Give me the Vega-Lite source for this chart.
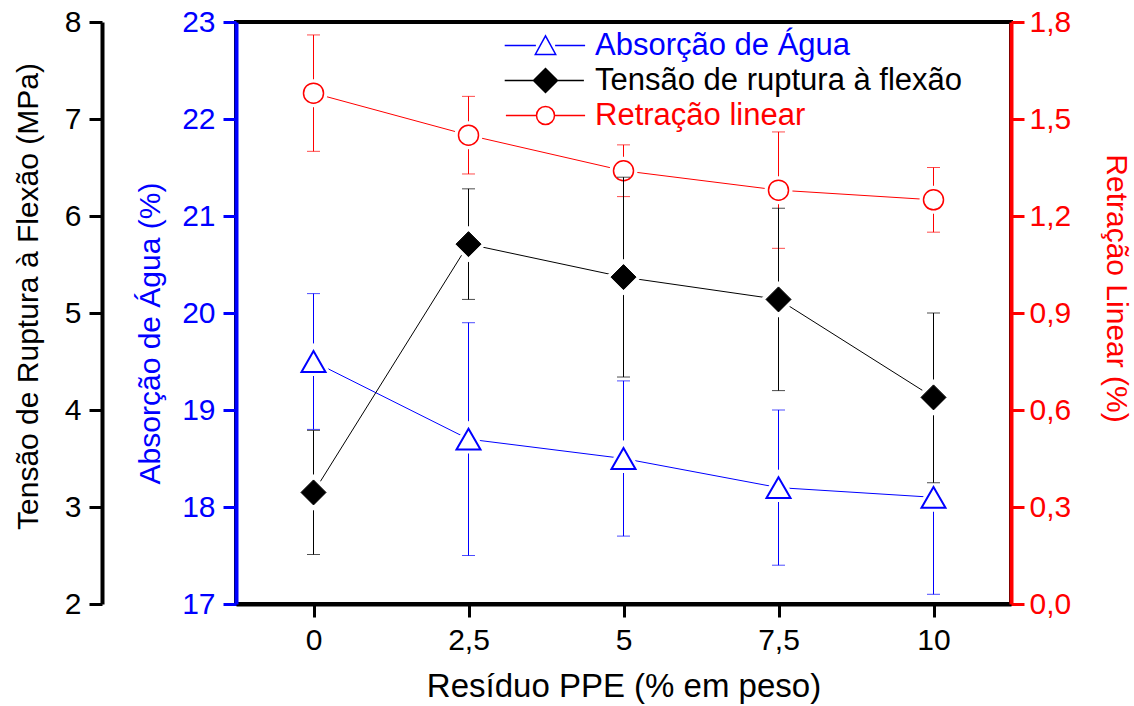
{
  "$schema": "https://vega.github.io/schema/vega-lite/v6.json",
  "width": 775,
  "height": 582,
  "autosize": {"type": "none"},
  "padding": {"left": 236, "top": 22, "right": 123, "bottom": 102},
  "background": "white",
  "config": {
    "font": "Liberation Sans",
    "view": {"stroke": "black", "strokeWidth": 4},
    "axis": {"grid": false, "zindex": 1, "labelFont": "Liberation Sans", "titleFont": "Liberation Sans", "titleFontWeight": "normal", "labelFontSize": 30, "titleFontSize": 30, "domainWidth": 4, "tickWidth": 3, "tickSize": 13, "labelOverlap": false, "labelFlush": false},
    "legend": {
      "orient": "none", "legendX": 294, "legendY": 8, "padding": 0,
      "symbolSize": 576, "symbolStrokeWidth": 1.5, "labelFontSize": 31, "labelFont": "Liberation Sans",
      "labelOffset": 34, "rowPadding": 3, "labelLimit": 800
    }
  },
  "data": {
    "values": [
      {"x": 0, "serie": "Absorção de Água", "v": 19.5, "lo": 18.8, "hi": 20.2},
      {"x": 2.5, "serie": "Absorção de Água", "v": 18.7, "lo": 17.5, "hi": 19.9},
      {"x": 5, "serie": "Absorção de Água", "v": 18.5, "lo": 17.7, "hi": 19.3},
      {"x": 7.5, "serie": "Absorção de Água", "v": 18.2, "lo": 17.4, "hi": 19.0},
      {"x": 10, "serie": "Absorção de Água", "v": 18.1, "lo": 17.1, "hi": 19.1},
      {"x": 0, "serie": "Tensão de ruptura à flexão", "v": 3.15, "lo": 2.51, "hi": 3.79},
      {"x": 2.5, "serie": "Tensão de ruptura à flexão", "v": 5.71, "lo": 5.14, "hi": 6.28},
      {"x": 5, "serie": "Tensão de ruptura à flexão", "v": 5.37, "lo": 4.34, "hi": 6.4},
      {"x": 7.5, "serie": "Tensão de ruptura à flexão", "v": 5.14, "lo": 4.2, "hi": 6.08},
      {"x": 10, "serie": "Tensão de ruptura à flexão", "v": 4.13, "lo": 3.25, "hi": 5.0},
      {"x": 0, "serie": "Retração linear", "v": 1.58, "lo": 1.4, "hi": 1.76},
      {"x": 2.5, "serie": "Retração linear", "v": 1.45, "lo": 1.33, "hi": 1.57},
      {"x": 5, "serie": "Retração linear", "v": 1.34, "lo": 1.26, "hi": 1.42},
      {"x": 7.5, "serie": "Retração linear", "v": 1.28, "lo": 1.1, "hi": 1.46},
      {"x": 10, "serie": "Retração linear", "v": 1.25, "lo": 1.15, "hi": 1.35}
    ]
  },
  "encoding": {
    "x": {
      "field": "x", "type": "quantitative",
      "scale": {"domain": [-1.25, 11.25], "nice": false, "zero": false},
      "axis": {
        "title": "Resíduo PPE (% em peso)",
        "values": [0, 2.5, 5, 7.5, 10],
        "labelExpr": "replace(format(datum.value, '~g'), '.', ',')",
        "domainColor": "black", "tickColor": "black", "labelColor": "black", "titleColor": "black",
        "labelPadding": 8, "titleBaseline": "alphabetic", "titleY": 92, "titleFontSize": 33
      }
    }
  },
  "layer": [
    {
      "transform": [{"filter": "datum.serie == 'Absorção de Água'"}],
      "layer": [
        {
          "mark": {"type": "rule", "color": "#0000ff", "strokeWidth": 1},
          "encoding": {
            "y": {
              "field": "lo", "type": "quantitative", "title": "Absorção de Água (%)",
              "scale": {"domain": [17, 23], "nice": false, "zero": false},
              "axis": {
                "orient": "left", "values": [17, 18, 19, 20, 21, 22, 23], "format": "d",
                "domainColor": "#0000ff", "tickColor": "#0000ff", "labelColor": "#0000ff", "titleColor": "#0000ff",
                "labelPadding": 8, "titleX": -86, "titleY": 311, "titleBaseline": "middle", "titleAnchor": "middle"
              }
            },
            "y2": {"field": "hi"}
          }
        },
        {
          "mark": {"type": "tick", "orient": "horizontal", "color": "#0000ff", "size": 13, "thickness": 1},
          "encoding": {"y": {"field": "lo", "type": "quantitative", "title": "Absorção de Água (%)"}}
        },
        {
          "mark": {"type": "tick", "orient": "horizontal", "color": "#0000ff", "size": 13, "thickness": 1},
          "encoding": {"y": {"field": "hi", "type": "quantitative", "title": "Absorção de Água (%)"}}
        },
        {
          "mark": {"type": "line", "color": "#0000ff", "strokeWidth": 1},
          "encoding": {"y": {"field": "v", "type": "quantitative", "title": "Absorção de Água (%)"}}
        },
        {
          "mark": {"type": "point", "shape": "triangle-up", "size": 576, "filled": true, "fill": "white", "stroke": "white", "strokeWidth": 8, "opacity": 1},
          "encoding": {"y": {"field": "v", "type": "quantitative", "title": "Absorção de Água (%)"}}
        },
        {
          "mark": {"type": "point", "shape": "triangle-up", "size": 576, "filled": true, "fill": "white", "stroke": "#0000ff", "strokeWidth": 2, "opacity": 1},
          "encoding": {"y": {"field": "v", "type": "quantitative", "title": "Absorção de Água (%)"}}
        },
        {
          "transform": [{"filter": "datum.x < -100"}],
          "mark": {"type": "point", "filled": true, "opacity": 1, "strokeWidth": 1.5},
          "encoding": {
            "y": {"field": "v", "type": "quantitative", "title": "Absorção de Água (%)"},
            "shape": {"field": "serie", "type": "nominal",
              "scale": {"domain": ["Absorção de Água", "Tensão de ruptura à flexão", "Retração linear"],
                "range": ["M-3.4,0H-0.8M0.8,0H3.3M0,-0.8L-0.85,0.75L0.85,0.75Z", "M-3.4,0H3.2M-1,0L0,-1L1,0L0,1Z", "M-3.3,0H-0.75M0.75,0H3.3M0.75,0A0.75,0.75,0,1,1,-0.75,0A0.75,0.75,0,1,1,0.75,0Z"]},
              "legend": {"title": null, "labelColor": {"expr": "datum.value == 'Absorção de Água' ? '#0000ff' : datum.value == 'Retração linear' ? '#ff0000' : '#000000'"}}
            },
            "stroke": {"field": "serie", "type": "nominal",
              "scale": {"domain": ["Absorção de Água", "Tensão de ruptura à flexão", "Retração linear"], "range": ["#0000ff", "#000000", "#ff0000"]},
              "legend": {"title": null, "labelColor": {"expr": "datum.value == 'Absorção de Água' ? '#0000ff' : datum.value == 'Retração linear' ? '#ff0000' : '#000000'"}}
            },
            "fill": {"field": "serie", "type": "nominal",
              "scale": {"domain": ["Absorção de Água", "Tensão de ruptura à flexão", "Retração linear"], "range": ["#ffffff", "#000000", "#ffffff"]},
              "legend": {"title": null, "labelColor": {"expr": "datum.value == 'Absorção de Água' ? '#0000ff' : datum.value == 'Retração linear' ? '#ff0000' : '#000000'"}}
            }
          }
        }
      ]
    },
    {
      "transform": [{"filter": "datum.serie == 'Retração linear'"}],
      "layer": [
        {
          "mark": {"type": "rule", "color": "#ff0000", "strokeWidth": 1},
          "encoding": {
            "y": {
              "field": "lo", "type": "quantitative", "title": "Retração Linear (%)",
              "scale": {"domain": [0, 1.8], "nice": false, "zero": false},
              "axis": {
                "orient": "right", "values": [0, 0.3, 0.6, 0.9, 1.2, 1.5, 1.8],
                "labelExpr": "replace(format(datum.value, '.1f'), '.', ',')",
                "domainColor": "#ff0000", "tickColor": "#ff0000", "labelColor": "#ff0000", "titleColor": "#ff0000",
                "labelPadding": 5, "titleX": 104, "titleY": 266, "titleBaseline": "middle", "titleAnchor": "middle", "titleAngle": 90
              }
            },
            "y2": {"field": "hi"}
          }
        },
        {
          "mark": {"type": "tick", "orient": "horizontal", "color": "#ff0000", "size": 13, "thickness": 1},
          "encoding": {"y": {"field": "lo", "type": "quantitative", "title": "Retração Linear (%)"}}
        },
        {
          "mark": {"type": "tick", "orient": "horizontal", "color": "#ff0000", "size": 13, "thickness": 1},
          "encoding": {"y": {"field": "hi", "type": "quantitative", "title": "Retração Linear (%)"}}
        },
        {
          "mark": {"type": "line", "color": "#ff0000", "strokeWidth": 1},
          "encoding": {"y": {"field": "v", "type": "quantitative", "title": "Retração Linear (%)"}}
        },
        {
          "mark": {"type": "point", "shape": "circle", "size": 400, "filled": true, "fill": "white", "stroke": "white", "strokeWidth": 8, "opacity": 1},
          "encoding": {"y": {"field": "v", "type": "quantitative", "title": "Retração Linear (%)"}}
        },
        {
          "mark": {"type": "point", "shape": "circle", "size": 400, "filled": true, "fill": "white", "stroke": "#ff0000", "strokeWidth": 1.5, "opacity": 1},
          "encoding": {"y": {"field": "v", "type": "quantitative", "title": "Retração Linear (%)"}}
        }
      ]
    },
    {
      "transform": [{"filter": "datum.serie == 'Tensão de ruptura à flexão'"}],
      "layer": [
        {
          "mark": {"type": "rule", "color": "#000000", "strokeWidth": 1},
          "encoding": {
            "y": {
              "field": "lo", "type": "quantitative", "title": "Tensão de Ruptura à Flexão (MPa)",
              "scale": {"domain": [2, 8], "nice": false, "zero": false},
              "axis": {
                "orient": "left", "offset": 134, "values": [2, 3, 4, 5, 6, 7, 8], "format": "d",
                "domainColor": "#000000", "tickColor": "#000000", "labelColor": "#000000", "titleColor": "#000000",
                "labelPadding": 8, "titleX": -74, "titleY": 274, "titleBaseline": "middle", "titleAnchor": "middle"
              }
            },
            "y2": {"field": "hi"}
          }
        },
        {
          "mark": {"type": "tick", "orient": "horizontal", "color": "#000000", "size": 13, "thickness": 1},
          "encoding": {"y": {"field": "lo", "type": "quantitative", "title": "Tensão de Ruptura à Flexão (MPa)"}}
        },
        {
          "mark": {"type": "tick", "orient": "horizontal", "color": "#000000", "size": 13, "thickness": 1},
          "encoding": {"y": {"field": "hi", "type": "quantitative", "title": "Tensão de Ruptura à Flexão (MPa)"}}
        },
        {
          "mark": {"type": "line", "color": "#000000", "strokeWidth": 1},
          "encoding": {"y": {"field": "v", "type": "quantitative", "title": "Tensão de Ruptura à Flexão (MPa)"}}
        },
        {
          "mark": {"type": "point", "shape": "diamond", "size": 625, "filled": true, "fill": "white", "stroke": "white", "strokeWidth": 8, "opacity": 1},
          "encoding": {"y": {"field": "v", "type": "quantitative", "title": "Tensão de Ruptura à Flexão (MPa)"}}
        },
        {
          "mark": {"type": "point", "shape": "diamond", "size": 625, "filled": true, "fill": "#000000", "stroke": "#000000", "strokeWidth": 1, "opacity": 1},
          "encoding": {"y": {"field": "v", "type": "quantitative", "title": "Tensão de Ruptura à Flexão (MPa)"}}
        }
      ]
    }
  ],
  "resolve": {"scale": {"y": "independent"}}
}
